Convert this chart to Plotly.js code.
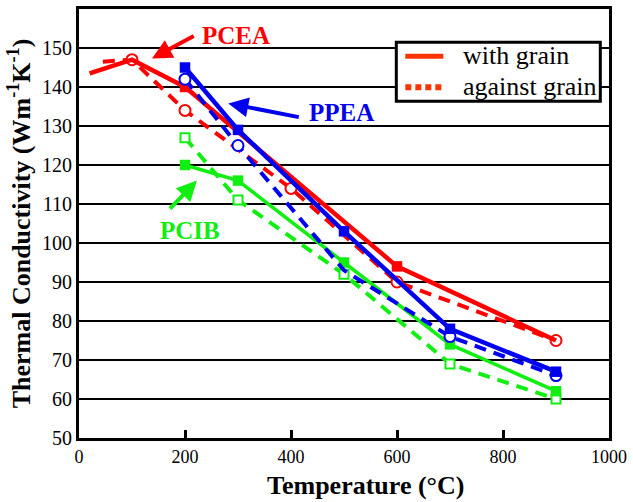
<!DOCTYPE html>
<html>
<head>
<meta charset="utf-8">
<script src="https://cdn.plot.ly/plotly-3.0.1.min.js"></script>
<style>html,body{margin:0;padding:0;background:#fff;}#chart{width:633px;height:502px;}</style>
</head>
<body>
<div id="chart"></div>
<script>
// ---- data (temperature in °C, thermal conductivity in W m^-1 K^-1) ----
const pceaWithT = [20, 100, 200, 600, 900];
const pceaWithK = [143.5, 147, 140, 94, 75];
const pceaWithMark = [0, 0, 1, 1, 0];

const pceaAgainstT = [45, 100, 200, 400, 600, 900];
const pceaAgainstK = [146.5, 147, 134, 114, 90, 75];
const pceaAgainstMark = [0, 1, 1, 1, 1, 1];

const ppeaWithT = [200, 300, 500, 700, 900];
const ppeaWithK = [145, 129, 103, 78, 67];
const ppeaWithMark = [1, 1, 1, 1, 1];

const ppeaAgainstT = [200, 300, 500, 700, 900];
const ppeaAgainstK = [142, 125, 93, 76, 66];
const ppeaAgainstMark = [1, 1, 0, 1, 1];

const pcibWithT = [200, 300, 500, 700, 900];
const pcibWithK = [120, 116, 95, 74, 62];
const pcibWithMark = [1, 1, 1, 1, 1];

const pcibAgainstT = [200, 300, 500, 700, 900];
const pcibAgainstK = [127, 111, 92, 69, 60];
const pcibAgainstMark = [1, 1, 1, 1, 1];

const legendLabels = ['with grain', 'against grain'];
const xTitle = 'Temperature (°C)';
const yTitle = 'Thermal Conductivity (Wm<sup>-1</sup>K<sup>-1</sup>)';

// ---- styling ----
const RED = '#ff0000', BLUE = '#0000ee', GREEN = '#11ee11', LEG = '#ff3300';
const FONT = 'Liberation Serif';
const DASH = '12px,8px';

function solid(x, y, m, color, w) {
  return {x, y, type: 'scatter', mode: 'lines+markers', showlegend: false, hoverinfo: 'skip',
    line: {color, width: w},
    marker: {symbol: 'square', opacity: 1, size: m.map(v => v ? 10.5 : 0), color, line: {width: 0}}};
}
function dashed(x, y, m, color, sym, w) {
  return {x, y, type: 'scatter', mode: 'lines+markers', showlegend: false, hoverinfo: 'skip',
    line: {color, width: w, dash: DASH},
    marker: {symbol: sym, opacity: 1, size: m.map(v => v ? (sym === 'square' ? 9 : 11) : 0), color: '#ffffff', line: {color, width: 2}}};
}

const data = [
  dashed(pcibAgainstT, pcibAgainstK, pcibAgainstMark, GREEN, 'square', 4),
  solid(pcibWithT, pcibWithK, pcibWithMark, GREEN, 3.5),
  dashed(pceaAgainstT, pceaAgainstK, pceaAgainstMark, RED, 'circle', 4),
  solid(pceaWithT, pceaWithK, pceaWithMark, RED, 4.5),
  dashed(ppeaAgainstT, ppeaAgainstK, ppeaAgainstMark, BLUE, 'circle', 4),
  solid(ppeaWithT, ppeaWithK, ppeaWithMark, BLUE, 4.5)
];

function arrow(hx, hy, tx, ty, color) {
  return {x: hx, y: hy, ax: tx, ay: ty, xref: 'x', yref: 'y', axref: 'x', ayref: 'y', text: '',
    showarrow: true, arrowhead: 2, arrowsize: 1, arrowwidth: 4, arrowcolor: color};
}
function label(x, y, text, color) {
  return {x, y, xref: 'x', yref: 'y', text: '<b>' + text + '</b>', showarrow: false,
    xanchor: 'left', yanchor: 'middle', font: {family: FONT, size: 25, color}};
}
function legendText(y, text) {
  return {x: 0.7213, y, xref: 'paper', yref: 'paper', text, showarrow: false,
    xanchor: 'left', yanchor: 'middle', font: {family: FONT, size: 26, color: '#000'}};
}

const layout = {
  width: 633, height: 502,
  margin: {l: 79, r: 24, t: 9, b: 64},
  paper_bgcolor: '#ffffff', plot_bgcolor: '#ffffff',
  font: {family: FONT, color: '#000'},
  showlegend: false,
  xaxis: {range: [0, 1000], dtick: 200, tick0: 0, ticks: 'inside', ticklen: 8, tickwidth: 3, tickcolor: '#000',
    showline: true, mirror: true, linewidth: 3, linecolor: '#000', showgrid: false, zeroline: false,
    tickfont: {family: FONT, size: 18, color: '#000'}},
  yaxis: {range: [50, 160], dtick: 10, tick0: 50, ticks: '', showline: true, mirror: true, linewidth: 3,
    linecolor: '#000', showgrid: true, gridcolor: '#000', gridwidth: 2, zeroline: false,
    tickfont: {family: FONT, size: 20, color: '#000'},
    title: {text: '<b>' + yTitle + '</b>', font: {family: FONT, size: 26, color: '#000'}, standoff: 4}},
  shapes: [
    {type: 'rect', xref: 'paper', yref: 'paper', x0: 0.5987, x1: 0.9836, y0: 0.7848, y1: 0.9224,
      fillcolor: '#ffffff', line: {color: '#000', width: 3}},
    {type: 'line', xref: 'paper', yref: 'paper', x0: 0.6157, x1: 0.6874, y0: 0.8897, y1: 0.8897,
      line: {color: LEG, width: 5}},
    {type: 'line', xref: 'paper', yref: 'paper', x0: 0.6157, x1: 0.6874, y0: 0.8175, y1: 0.8175,
      line: {color: LEG, width: 6, dash: '6px,4px'}}
  ],
  annotations: [
    legendText(0.892, legendLabels[0]),
    legendText(0.8198, legendLabels[1]),
    {x: 0.540, y: -0.111, xref: 'paper', yref: 'paper', text: '<b>' + xTitle + '</b>', showarrow: false,
      xanchor: 'center', yanchor: 'middle', font: {family: FONT, size: 26, color: '#000'}},
    arrow(137.7, 147.3, 219.4, 153.3, RED),
    label(228, 153.2, 'PCEA', RED),
    arrow(281.7, 135.8, 417.5, 132.2, BLUE),
    label(431, 133.5, 'PPEA', BLUE),
    arrow(222.5, 116, 169, 108.4, GREEN),
    label(149, 103.2, 'PCIB', GREEN)
  ]
};

Plotly.newPlot('chart', data, layout, {displayModeBar: false, staticPlot: true});
</script>
</body>
</html>
